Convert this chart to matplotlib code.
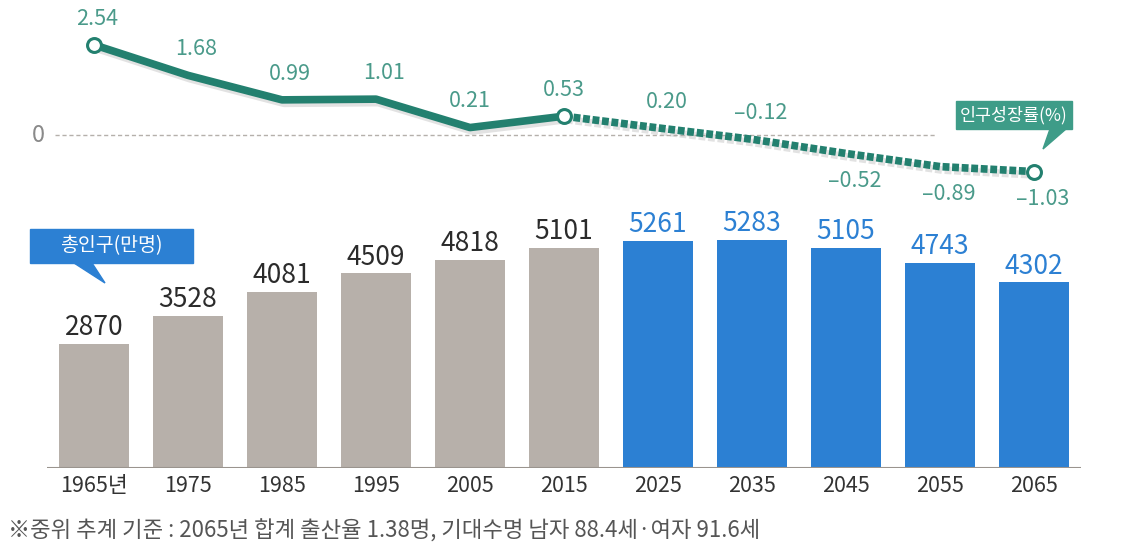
import numpy as np
import matplotlib
matplotlib.use("Agg")
from matplotlib import pyplot as plt
from matplotlib import patheffects as pe
from matplotlib.patches import Polygon

plt.rcParams['font.family'] = ['Noto Sans CJK KR', 'DejaVu Sans']

years = ["1965년", "1975", "1985", "1995", "2005", "2015",
         "2025", "2035", "2045", "2055", "2065"]
population = [2870, 3528, 4081, 4509, 4818, 5101, 5261, 5283, 5105, 4743, 4302]
growth = [2.54, 1.68, 0.99, 1.01, 0.21, 0.53, 0.20, -0.12, -0.52, -0.89, -1.03]
growth_labels = ["2.54", "1.68", "0.99", "1.01", "0.21", "0.53",
                 "0.20", "–0.12", "–0.52", "–0.89", "–1.03"]
n_past = 6  # 1965~2015 actual, rest projected

gray = "#b7b0aa"
blue = "#2c80d3"
teal = "#23806f"
teal_text = "#4a9a8a"

W, H = 1141, 551
fig = plt.figure(figsize=(W / 100, H / 100), dpi=100)
x = np.arange(len(years))

# bar axes: x unit = 94 px, zero at y=468 px
ax = fig.add_axes([47 / W, (H - 468) / H, 1034 / W, 259 / H])
colors = [gray] * n_past + [blue] * (len(years) - n_past)
ax.bar(x, population, width=0.74, color=colors, zorder=2)
ax.set_xlim(-0.5, len(years) - 0.5)
ax.set_ylim(0, 6000)
for i, v in enumerate(population):
    ax.annotate(str(v), (i, v), xytext=(0, 2), textcoords="offset points",
                ha="center", va="bottom", fontsize=19,
                color="#2b2b2b" if i < n_past else blue)
ax.axhline(0, color="#9a948e", lw=1.5, zorder=3)
for s in ax.spines.values():
    s.set_visible(False)
ax.set_yticks([])
ax.set_xticks(x)
ax.set_xticklabels(years, fontsize=15.5, color="#333333")
ax.tick_params(axis="x", length=0, pad=5)

# line axes: zero at y=135 px, 35.5 px per 1%
ax2 = fig.add_axes([47 / W, (H - 206) / H, 1034 / W, 184.6 / H])
ax2.set_xlim(-0.5, len(years) - 0.5)
ax2.set_ylim(-2.0, 3.2)
ax2.axis("off")
ax2.plot([-0.42, 8.95], [0, 0], color="#b5b0ab", lw=1, ls=(0, (3, 2)), zorder=1)
ax2.text(-0.52, 0, "0", ha="right", va="center", fontsize=17, color="#8a8a8a")

shadow = [pe.SimpleLineShadow(offset=(1.5, -2.5), shadow_color="#a0a0a0", alpha=0.3),
          pe.Normal()]
ax2.plot(x[:n_past], growth[:n_past], color=teal, lw=5.5,
         solid_joinstyle="round", path_effects=shadow, zorder=3)
ax2.plot(x[n_past - 1:], growth[n_past - 1:], color=teal, lw=5.5,
         ls=(0, (0.9, 0.35)), dash_capstyle="butt", path_effects=shadow, zorder=3)
for i in [0, n_past - 1, len(years) - 1]:
    ax2.plot(x[i], growth[i], "o", ms=10, mfc="white", mec=teal, mew=2.2, zorder=4)

for i, (v, lab) in enumerate(zip(growth, growth_labels)):
    below = i >= 8
    dx = 0 if i in (4, 5) else 6
    if i == 0:
        dx = 2
    ax2.annotate(lab, (i, v), xytext=(dx, -12 if below else 11),
                 textcoords="offset points", ha="center",
                 va="top" if below else "bottom", fontsize=15.5, color=teal_text)

# legend call-out boxes
def callout(x0, y0, x1, y1, tail, color, text, size):
    box = Polygon([(x0, y0), (x1, y0), (x1, y1), (x0, y1)], closed=True,
                  transform=None, color=color, zorder=5)
    fig.add_artist(box)
    fig.add_artist(Polygon(tail, closed=True, transform=None, color=color, zorder=5))
    fig.text((x0 + x1) / 2 / W, (y0 + y1) / 2 / H, text, ha="center", va="center",
             color="white", fontsize=size, zorder=6)

# pixel coords measured from bottom
callout(956, H - 129, 1072, H - 101,
        [(1050, H - 129), (1066, H - 129), (1043, H - 149)], "#3e9c88", "인구성장률(%)", 12.5)
callout(30, H - 263, 193, H - 229,
        [(74, H - 263), (92, H - 263), (105, H - 283)], blue, "총인구(만명)", 14)

fig.text(8 / W, (H - 531) / H,
         "※중위 추계 기준 : 2065년 합계 출산율 1.38명, 기대수명 남자 88.4세·여자 91.6세",
         fontsize=16, color="#555555", va="center")

fig.savefig("out.png", dpi=100, facecolor="white")
